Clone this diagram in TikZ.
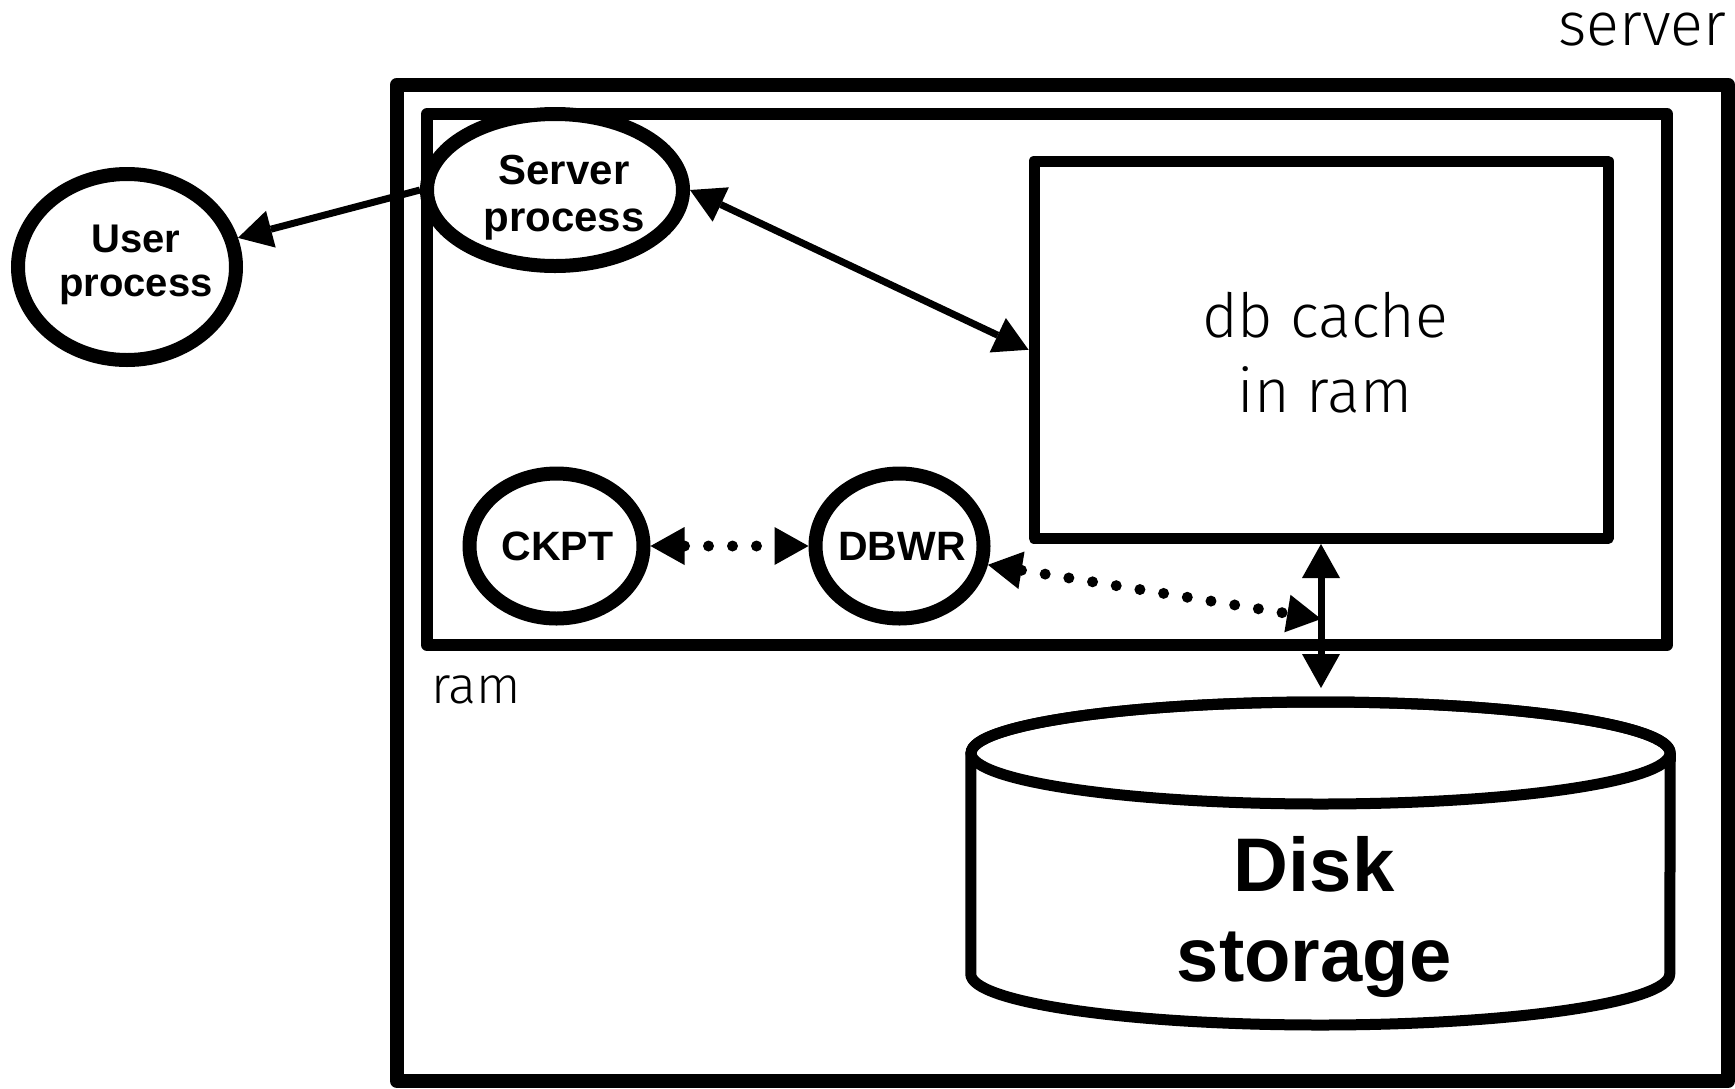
\documentclass[tikz,border=0pt]{standalone}
\usepackage{fontspec}
\setmainfont{Liberation Sans}
\newfontfamily\thinfont{Fira Sans Light}
\usetikzlibrary{arrows.meta,shapes.geometric}
\begin{document}
\begin{tikzpicture}[x=0.5pt,y=-0.5pt,
  >={Triangle[length=17pt,width=19pt,line width=0pt]},
  frame/.style={draw, line join=round},
  proc/.style={ellipse, draw, fill=white, line width=7pt, inner sep=0pt},
  lbl/.style={inner sep=0pt, outer sep=0pt},
  boldlbl/.style={lbl, align=center, font=\bfseries\fontsize{20.5}{23.5}\selectfont},
  arr/.style={line width=3.5pt},
  dotline/.style={line width=5.5pt, line cap=round, dash pattern=on 0pt off 12pt}]
\useasboundingbox (0,0) rectangle (1735,1088);

% containers
\draw[frame, line width=7pt] (397,84.5) rectangle (1728,1081);
\draw[frame, line width=6pt] (427,114) rectangle (1667,645);
\node[rectangle, draw, line width=5.5pt, line join=round, inner sep=0pt,
      minimum width=287pt, minimum height=188.75pt] (cache) at (1321,349.75) {};

% cylinder
\filldraw[frame, fill=white, line width=5.5pt]
  (970.75,753) -- (970.75,974) arc[start angle=180, end angle=360, x radius=174.75pt, y radius=25.5pt]
  -- (1670.25,753) arc[start angle=0, end angle=180, x radius=174.75pt, y radius=25.5pt] -- cycle;
\draw[line width=5.5pt] (1320.5,753) ellipse [x radius=174.75pt, y radius=25.5pt];
\coordinate (disktop) at (1321,688);

% processes
\node[proc, minimum width=128pt, minimum height=76pt] (sp) at (555,190) {};
\node[proc, minimum width=109pt, minimum height=93pt] (up) at (127,267) {};
\node[proc, minimum width=87pt, minimum height=72.5pt] (ckpt) at (556.5,546) {};
\node[proc, minimum width=84pt, minimum height=72.5pt] (dbwr) at (899.5,546) {};

% texts
\node[lbl, anchor=base east, font=\thinfont\fontsize{30.5}{36}\selectfont] (serverlbl) at (1726,45) {server};
\node[lbl, anchor=base west, font=\thinfont\fontsize{26}{32}\selectfont] (ramlbl) at (431,703) {ram};
\node[lbl, align=center, font=\thinfont\fontsize{30.5}{37.5}\selectfont] (cachelbl) at (1325,353) {db cache\\in ram};
\node[lbl, align=center, font=\bfseries\fontsize{21}{23.5}\selectfont] (sptxt) at (564,197.4) {Server\\process};
\node[lbl, align=center, font=\bfseries\fontsize{20}{22}\selectfont] (uptxt) at (136,265) {User\\process};
\node[boldlbl, anchor=base] (ckpttxt) at (557.5,560) {CKPT};
\node[boldlbl, anchor=base] (dbwrtxt) at (902,560) {DBWR};
\node[lbl, align=center, font=\bfseries\fontsize{38}{45}\selectfont] (disklbl) at (1314,917.3) {Disk\\storage};

% connectors
\coordinate (dst) at (1321,619);
\draw[arr, ->] (sp.west) -- (up);
\draw[arr, <->] (sp.east) -- (cache.west);
\draw[arr, <->] (cache.south) -- (disktop);
\draw[dotline, <->] (ckpt.east) -- (dbwr.west);
\draw[dotline, <->] (dbwr.-12) -- (dst);
\end{tikzpicture}
\end{document}
